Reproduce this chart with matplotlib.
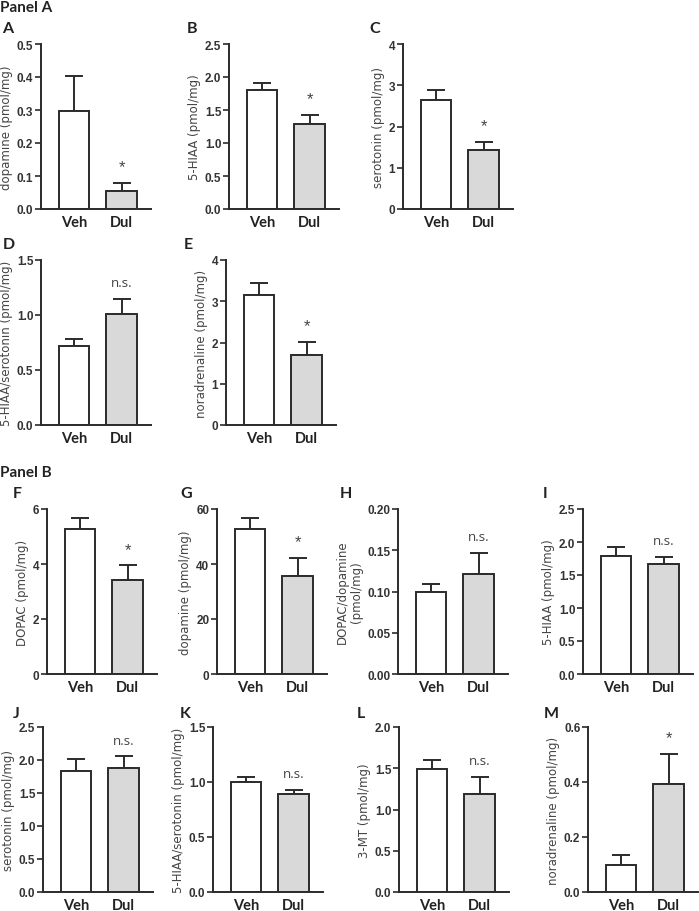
import matplotlib
matplotlib.use("Agg")
import matplotlib.pyplot as plt
import numpy as np

# group names
groups = ["Veh", "Dul"]

# panel letters and y axis labels
letters = ["A", "B", "C", "D", "E", "F", "G", "H", "I", "J", "K", "L", "M"]
ylabels = ["dopamine (pmol/mg)", "5-HIAA (pmol/mg)", "serotonin (pmol/mg)",
           "5-HIAA/serotonin (pmol/mg)", "noradrenaline (pmol/mg)",
           "DOPAC (pmol/mg)", "dopamine (pmol/mg)", "DOPAC/dopamine\n(pmol/mg)",
           "5-HIAA (pmol/mg)", "serotonin (pmol/mg)", "5-HIAA/serotonin (pmol/mg)",
           "3-MT (pmol/mg)", "noradrenaline (pmol/mg)"]

# means and SEM
veh_mean = [0.296, 1.80, 2.64, 0.714, 3.16, 5.27, 52.8, 0.100, 1.79, 1.84, 0.997, 1.495, 0.100]
veh_sem = [0.108, 0.115, 0.25, 0.069, 0.28, 0.40, 3.9, 0.009, 0.135, 0.18, 0.053, 0.10, 0.035]
dul_mean = [0.0535, 1.29, 1.42, 1.012, 1.70, 3.43, 35.6, 0.1216, 1.665, 1.885, 0.89, 1.184, 0.392]
dul_sem = [0.026, 0.14, 0.21, 0.138, 0.32, 0.53, 6.7, 0.025, 0.115, 0.17, 0.04, 0.21, 0.11]
signif = ["*", "*", "*", "n.s.", "*", "*", "*", "n.s.", "n.s.", "n.s.", "n.s.", "n.s.", "*"]

# y axis ranges / tick steps / label formats
ymax = [0.5, 2.5, 4, 1.5, 4, 6, 60, 0.20, 2.5, 2.5, 1.5, 2.0, 0.6]
ystep = [0.1, 0.5, 1, 0.5, 1, 2, 20, 0.05, 0.5, 0.5, 0.5, 0.5, 0.2]
yfmt = ["%.1f", "%.1f", "%d", "%.1f", "%d", "%d", "%d", "%.2f", "%.1f", "%.1f", "%.1f", "%.1f", "%.1f"]

# layout in pixels: axis left edge, axis top edge
W, H = 699, 912
axis_left = [41, 229, 403, 41, 226, 47, 217, 398, 583, 43, 213, 399, 588]
axis_top = [45, 45, 45, 261, 261, 510, 510, 510, 510, 728, 728, 728, 728]
letter_pos = [(2, 29), (187, 29), (369, 29), (3, 245), (184, 245),
              (13, 494), (180, 494), (340, 494), (543, 494),
              (13, 714), (180, 714), (357, 714), (544, 714)]
AX_W, AX_H = 110, 165

dark = "#2b2b2b"
gray_fill = "#d9d9d9"

fig = plt.figure(figsize=(W / 100, H / 100), dpi=100)

fig.text(0 / W, 1 - 1 / H, "Panel A", family="Lato", weight="bold", fontsize=11,
         va="top", ha="left", color="#222222")
fig.text(0 / W, 1 - 473 / H, "Panel B", family="Lato", weight="bold", fontsize=11,
         va="center", ha="left", color="#222222")

for i in range(len(letters)):
    left = axis_left[i]
    top = axis_top[i]
    ax = fig.add_axes([left / W, 1 - (top + AX_H) / H, AX_W / W, AX_H / H])

    x = np.arange(2)
    means = [veh_mean[i], dul_mean[i]]
    sems = [veh_sem[i], dul_sem[i]]
    ax.bar(x, means, width=0.64, color=["white", gray_fill], edgecolor=dark,
           linewidth=1.4, zorder=2)
    ax.errorbar(x, means, yerr=[[0, 0], sems], fmt="none", ecolor=dark,
                elinewidth=1.4, capsize=6.5, capthick=1.4, zorder=1)

    top_err = dul_mean[i] + dul_sem[i]
    if signif[i] == "*":
        ax.annotate("*", (1, top_err), xytext=(0, 6), textcoords="offset points",
                    ha="center", va="bottom", fontsize=12, color="#444444",
                    family="Liberation Sans")
    else:
        ax.annotate("n.s.", (1, top_err), xytext=(0, 7), textcoords="offset points",
                    ha="center", va="bottom", fontsize=9.5, color="#444444",
                    family="Open Sans")

    ax.set_xlim(-0.7, 1.62)
    ax.set_ylim(0, ymax[i])
    ticks = np.arange(0, ymax[i] + ystep[i] / 2, ystep[i])
    ax.set_yticks(ticks)
    ax.set_yticklabels([yfmt[i] % t for t in ticks], family="Liberation Sans",
                       weight="bold", fontsize=8.5, color="#333333")
    ax.set_xticks(x)
    ax.set_xticklabels(groups, family="Lato", weight="bold", fontsize=10.5,
                       color="#222222")
    ax.tick_params(axis="x", length=0, pad=4)
    ax.tick_params(axis="y", length=4, width=1.2, color=dark, pad=1.5)
    for s in ["top", "right"]:
        ax.spines[s].set_visible(False)
    for s in ["left", "bottom"]:
        ax.spines[s].set_linewidth(1.4)
        ax.spines[s].set_color(dark)
    ax.set_ylabel(ylabels[i], family="DejaVu Sans", fontsize=8.5, color="#444444",
                  labelpad=3, linespacing=1.1)

    lx, ly = letter_pos[i]
    fig.text(lx / W, 1 - ly / H, letters[i], family="Lato", weight="bold",
             fontsize=11.5, va="center", ha="left", color="#222222")

fig.savefig("out.png", dpi=100)
